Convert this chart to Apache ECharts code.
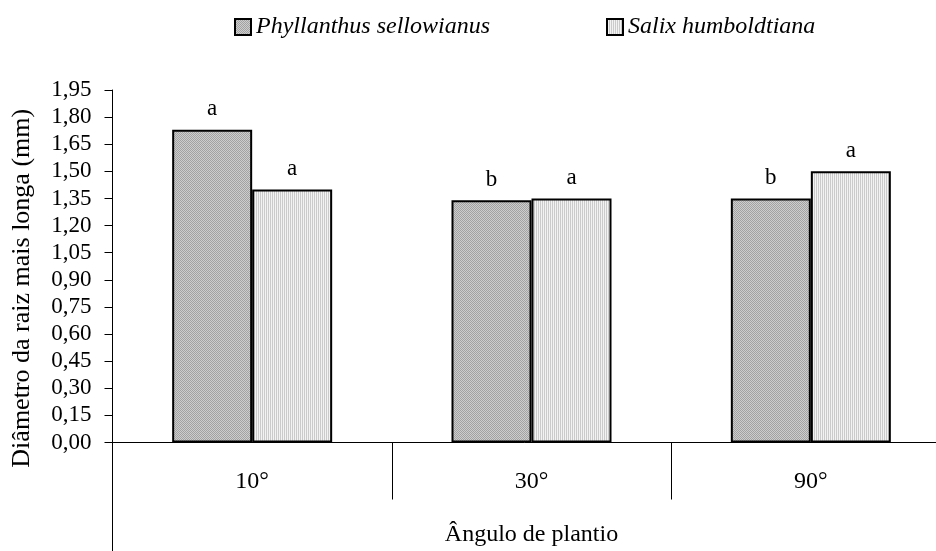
<!DOCTYPE html>
<html>
<head>
<meta charset="utf-8">
<script src="https://cdn.jsdelivr.net/npm/echarts@6/dist/echarts.min.js"></script>
<style>
  html, body { margin: 0; padding: 0; background: #fff; }
  #chart { width: 936px; height: 551px; }
</style>
</head>
<body>
<div id="chart"></div>
<script>
  // dados
  const categorias = ['10°', '30°', '90°'];
  const phyllanthus = [1.73, 1.34, 1.35];
  const salix = [1.40, 1.35, 1.50];
  const letrasPhyllanthus = ['a', 'b', 'b'];
  const letrasSalix = ['a', 'a', 'a'];
  const yTicks = { min: 0, max: 1.95, interval: 0.15 };

  const fonte = '"Liberation Serif", "DejaVu Serif", serif';

  // textura das barras
  function makePattern(kind) {
    const c = document.createElement('canvas');
    c.width = 4; c.height = 4;
    const ctx = c.getContext('2d');
    if (kind === 'dark') {
      ctx.fillStyle = '#cdcdcd';
      ctx.fillRect(0, 0, 4, 4);
      ctx.fillStyle = '#a2a2a2';
      for (let y = 0; y < 4; y++) {
        for (let x = 0; x < 4; x++) {
          if ((x + y) % 2 === 0) ctx.fillRect(x, y, 1, 1);
        }
      }
    } else {
      ctx.fillStyle = '#f3f3f3';
      ctx.fillRect(0, 0, 4, 4);
      ctx.fillStyle = '#cbcbcb';
      ctx.fillRect(0, 0, 1, 4);
      ctx.fillRect(2, 0, 1, 4);
    }
    return { image: c, repeat: 'repeat' };
  }

  const chart = echarts.init(document.getElementById('chart'));

  const legendBase = {
    top: 15,
    padding: 0,
    itemWidth: 16,
    itemHeight: 16,
    itemGap: 0,
    icon: 'rect',
    textStyle: { fontFamily: fonte, fontStyle: 'italic', fontSize: 24, color: '#000' }
  };

  chart.setOption({
    animation: false,
    legend: [
      Object.assign({}, legendBase, { left: 234, data: ['Phyllanthus sellowianus'] }),
      Object.assign({}, legendBase, { left: 606, data: ['Salix humboldtiana'] })
    ],
    grid: {
      left: 112.5,
      top: 90,
      width: 838,
      height: 352.5,
      containLabel: false,
      outerBoundsMode: 'none'
    },
    xAxis: {
      type: 'category',
      data: categorias,
      boundaryGap: true,
      axisLine: { lineStyle: { color: '#000', width: 1 } },
      axisTick: { show: true, length: 57, interval: 0, lineStyle: { color: '#000', width: 1 } },
      axisLabel: { color: '#000', fontFamily: fonte, fontSize: 24, margin: 27 },
      name: 'Ângulo de plantio',
      nameLocation: 'middle',
      nameGap: 80,
      nameTextStyle: { color: '#000', fontFamily: fonte, fontSize: 24 }
    },
    yAxis: {
      type: 'value',
      min: yTicks.min,
      max: yTicks.max,
      interval: yTicks.interval,
      splitLine: { show: false },
      axisLine: { show: true, lineStyle: { color: '#000', width: 1 } },
      axisTick: { show: true, length: 8, lineStyle: { color: '#000', width: 1 } },
      axisLabel: {
        color: '#000', fontFamily: fonte, fontSize: 23, margin: 21,
        formatter: v => v.toFixed(2).replace('.', ',')
      },
      name: 'Diâmetro da raiz mais longa (mm)',
      nameLocation: 'middle',
      nameGap: 77,
      nameTextStyle: { color: '#000', fontFamily: fonte, fontSize: 26, padding: [0, 44, 0, 0] }
    },
    series: [
      {
        name: 'Phyllanthus sellowianus',
        type: 'bar',
        data: phyllanthus,
        barWidth: 80,
        barGap: '0%',
        itemStyle: { color: makePattern('dark'), borderColor: '#000', borderWidth: 2 },
        label: {
          show: true, position: 'top', distance: 9, color: '#000', fontFamily: fonte, fontSize: 23,
          formatter: p => letrasPhyllanthus[p.dataIndex]
        }
      },
      {
        name: 'Salix humboldtiana',
        type: 'bar',
        data: salix,
        barWidth: 80,
        barGap: '0%',
        itemStyle: { color: makePattern('light'), borderColor: '#000', borderWidth: 2 },
        label: {
          show: true, position: 'top', distance: 9, color: '#000', fontFamily: fonte, fontSize: 23,
          formatter: p => letrasSalix[p.dataIndex]
        }
      }
    ]
  });

  // prolongamento do eixo y abaixo do eixo x (borda esquerda da primeira categoria)
  const c0 = chart.convertToPixel({ gridIndex: 0 }, [categorias[0], 0]);
  const c1 = chart.convertToPixel({ gridIndex: 0 }, [categorias[1], 0]);
  const xEixo = Math.round(c0[0] - (c1[0] - c0[0]) / 2) + 0.5;
  chart.setOption({
    graphic: [{
      type: 'line',
      shape: { x1: xEixo, y1: c0[1], x2: xEixo, y2: 551 },
      style: { stroke: '#000', lineWidth: 1 }
    }]
  });
</script>
</body>
</html>
